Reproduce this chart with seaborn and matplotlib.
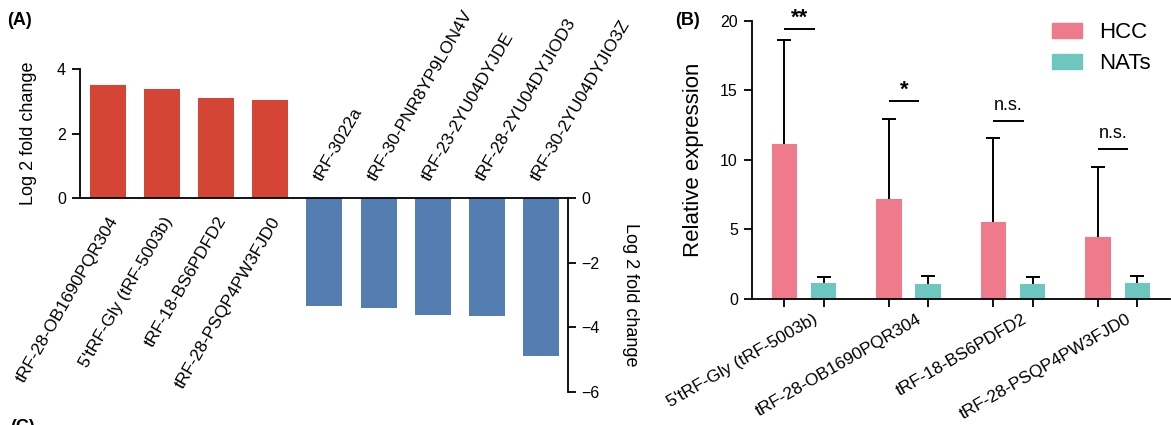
import numpy as np
import pandas as pd
import seaborn as sns
import matplotlib.pyplot as plt
from matplotlib.patches import Patch
from matplotlib.transforms import ScaledTranslation, blended_transform_factory

# Panel A: log2 fold change of the tRFs
up_genes = ['tRF-28-OB1690PQR304', "5'tRF-Gly (tRF-5003b)", 'tRF-18-BS6PDFD2', 'tRF-28-PSQP4PW3FJD0']
up_fc = [3.49, 3.38, 3.10, 3.04]
down_genes = ['tRF-3022a', 'tRF-30-PNR8YP9LON4V', 'tRF-23-2YU04DYJDE',
              'tRF-28-2YU04DYJIOD3', 'tRF-30-2YU04DYJIO3Z']
down_fc = [-3.33, -3.40, -3.63, -3.66, -4.88]

# Panel B: relative expression, mean and SD
b_genes = ["5'tRF-Gly (tRF-5003b)", 'tRF-28-OB1690PQR304', 'tRF-18-BS6PDFD2', 'tRF-28-PSQP4PW3FJD0']
hcc_mean = [11.13, 7.17, 5.54, 4.44]
hcc_sd = [7.45, 5.76, 6.06, 5.03]
nat_mean = [1.13, 1.08, 1.06, 1.17]
nat_sd = [0.47, 0.57, 0.50, 0.48]
sig_marks = ['**', '*', 'n.s.', 'n.s.']
sig_heights = [19.4, 14.2, 12.8, 10.8]

RED, BLUE = '#D44535', '#547DB1'
PINK, TEAL = '#EE7A8B', '#6DC7BE'

sns.set_style('ticks')
plt.rcParams['font.family'] = ['Liberation Sans', 'DejaVu Sans']
plt.rcParams.update({
    'axes.linewidth': 1.3,
    'xtick.major.width': 1.3,
    'ytick.major.width': 1.3,
    'xtick.minor.width': 1.3,
    'text.color': 'black',
    'axes.labelcolor': 'black',
    'axes.edgecolor': 'black',
    'xtick.color': 'black',
    'ytick.color': 'black',
})

fig = plt.figure(figsize=(11.71, 4.25), dpi=100)

# ---------------- (A) ----------------
axA = fig.add_axes([0.0683, 0.0784, 0.4165, 0.7592])
dfa = pd.DataFrame({
    'gene': up_genes + down_genes,
    'fc': up_fc + down_fc,
    'dir': ['up'] * len(up_genes) + ['down'] * len(down_genes),
})
sns.barplot(data=dfa, x='gene', y='fc', hue='dir', palette={'up': RED, 'down': BLUE},
            dodge=False, width=0.665, saturation=1, legend=False, linewidth=0, ax=axA)
axA.set_xlim(-0.518, 8.494)
axA.set_ylim(-6, 4)
axA.set_xticks([])
axA.set_xlabel('')
axA.set_ylabel('')
axA.set_yticks([0, 2, 4])
axA.tick_params(axis='y', labelsize=11.5, length=6, pad=4)
axA.spines['top'].set_visible(False)
axA.spines['right'].set_visible(False)
axA.spines['bottom'].set_position(('data', 0))
axA.spines['left'].set_bounds(0, 4)

axR = axA.twinx()
axR.set_ylim(-6, 4)
axR.set_yticks([0, -2, -4, -6])
axR.tick_params(axis='y', labelsize=11.5, length=6, pad=4)
for s in ['top', 'left', 'bottom']:
    axR.spines[s].set_visible(False)
axR.spines['right'].set_bounds(-6, 0)

for i, (g, v) in enumerate(zip(dfa['gene'], dfa['fc'])):
    if v > 0:
        axA.text(i, -0.5, g, rotation=60, ha='right', va='top', rotation_mode='anchor', fontsize=12.5)
    else:
        axA.text(i, 0.45, g, rotation=60, ha='left', va='bottom', rotation_mode='anchor', fontsize=12.5)

tr = blended_transform_factory(axA.transAxes, axA.transData)
axA.text(-0.1046, 2, 'Log 2 fold change', transform=tr, rotation=90, ha='center', va='center', fontsize=13)
axA.text(1.128, -3, 'Log 2 fold change', transform=tr, rotation=270, ha='center', va='center', fontsize=13)

# ---------------- (B) ----------------
axB = fig.add_axes([0.6419, 0.2965, 0.3572, 0.6549])
dfb = pd.DataFrame({
    'gene': b_genes * 2,
    'group': ['HCC'] * len(b_genes) + ['NATs'] * len(b_genes),
    'value': hcc_mean + nat_mean,
})
sns.barplot(data=dfb, x='gene', y='value', hue='group', palette={'HCC': PINK, 'NATs': TEAL},
            width=0.75, gap=0.35, saturation=1, errorbar=None, legend=False, linewidth=0, ax=axB)

centers = []
hcc_x = None
for cont, sd in zip(axB.containers, [hcc_sd, nat_sd]):
    xs = [b.get_x() + b.get_width() / 2 for b in cont]
    hs = [b.get_height() for b in cont]
    if hcc_x is None:
        hcc_x = xs
    centers += xs
    eb = axB.errorbar(xs, hs, yerr=[np.zeros(len(sd)), sd], fmt='none', ecolor='black',
                      elinewidth=1.4, capsize=4.7, capthick=1.4, zorder=1)
    # only the upper cap is shown
    eb[1][0].set_visible(False)

axB.set_xlim(-0.5, 3.5)
axB.set_ylim(0, 20)
axB.set_yticks([0, 5, 10, 15, 20])
axB.set_xlabel('')
axB.set_ylabel('Relative expression', fontsize=16)
axB.yaxis.set_label_coords(-0.114, 0.5)
axB.set_xticks(centers, minor=True)
axB.tick_params(axis='x', which='minor', length=6, direction='out')
axB.tick_params(axis='x', which='major', length=0, pad=9, labelsize=12.5)
axB.tick_params(axis='y', labelsize=11.5, length=6, pad=4)
off = ScaledTranslation(6 / 72, 0, fig.dpi_scale_trans)
for lbl in axB.get_xticklabels():
    lbl.set_rotation(30)
    lbl.set_ha('right')
    lbl.set_va('top')
    lbl.set_rotation_mode('anchor')
    lbl.set_transform(lbl.get_transform() + off)
sns.despine(ax=axB)

for i, (mark, h) in enumerate(zip(sig_marks, sig_heights)):
    x0 = hcc_x[i]
    x1 = x0 + 0.29
    axB.plot([x0, x1], [h, h], color='black', lw=1.4, solid_capstyle='butt')
    star = '*' in mark
    axB.annotate(mark, ((x0 + x1) / 2, h), xytext=(0, 4 if star else 8), textcoords='offset points',
                 ha='center', va='baseline', fontsize=16 if star else 13,
                 fontweight='bold' if star else 'normal', annotation_clip=False)

axB.legend(handles=[Patch(color=PINK), Patch(color=TEAL)], labels=['HCC', 'NATs'],
           loc='upper left', bbox_to_anchor=(0.718, 0.995), frameon=False, fontsize=16,
           handlelength=1.36, handleheight=0.64, handletextpad=0.77, labelspacing=0.45,
           borderpad=0, borderaxespad=0)

fig.text(7 / 1171, 1 - 12 / 425, '(A)', ha='left', va='top', fontsize=13, fontweight='bold')
fig.text(675 / 1171, 1 - 12 / 425, '(B)', ha='left', va='top', fontsize=13, fontweight='bold')
# panel (C) label is cut by the bottom edge in the reference too
fig.text(10 / 1171, 1 - 419 / 425, '(C)', ha='left', va='top', fontsize=13, fontweight='bold')

fig.savefig('out.png', dpi=100)
